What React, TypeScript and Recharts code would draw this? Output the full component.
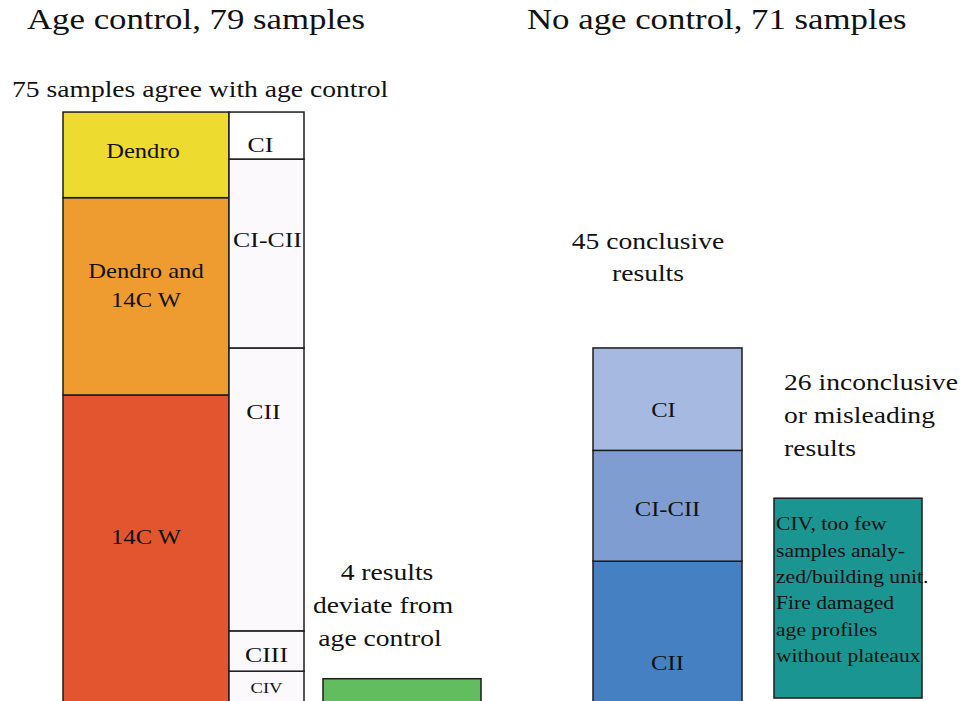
import { BarChart, Bar, XAxis, YAxis } from "recharts";

// Left block: samples with age control (bottom to top of each column)
const agreeCategories = ["14C W", "Dendro and 14C W", "Dendro"];
const agreeValues = [41.1, 23.5, 10.2];
const classCategories = ["CIV", "CIII", "CII", "CI-CII", "CI"];
const classValues = [8.2, 4.8, 33.7, 22.5, 5.6];
const deviateCategories = ["Deviating"];
const deviateValues = [7.3];

// Right block: samples without age control
const conclusiveCategories = ["CII", "CI-CII", "CI"];
const conclusiveValues = [21.3, 13.2, 12.2];
const inconclusiveRange = [5.0, 28.8];

const yDomain = [0, 81];

const FONT = '"Liberation Serif", "Times New Roman", Times, serif';
const STRETCH = 1.2;
const EDGE = "#1c1c1c";

type SegStyle = {
  fill: string;
  lines: string[];
  size: number;
  dy: number;
  lh?: number;
  dx?: number;
  anchor?: "start" | "middle";
};

const leftStyles: Record<string, SegStyle> = {
  Dendro: { fill: "#eedb2f", lines: ["Dendro"], size: 20.5, dy: 46, dx: -3 },
  "Dendro and 14C W": { fill: "#ee9c30", lines: ["Dendro and", "14C W"], size: 20.5, dy: 80, lh: 29 },
  "14C W": { fill: "#e3552f", lines: ["14C W"], size: 20.5, dy: 149 },
  CI: { fill: "#ffffff", lines: ["CI"], size: 21.5, dy: 40, dx: -6 },
  "CI-CII": { fill: "#fbf9fb", lines: ["CI-CII"], size: 21.5, dy: 88, dx: 1 },
  CII: { fill: "#fbf9fb", lines: ["CII"], size: 21.5, dy: 71, dx: -3 },
  CIII: { fill: "#fbf9fb", lines: ["CIII"], size: 21.5, dy: 31 },
  CIV: { fill: "#fbf9fb", lines: ["CIV"], size: 15.5, dy: 22 },
};

const deviateStyle: SegStyle = { fill: "#62bd5e", lines: [], size: 20, dy: 0 };

const rightStyles: Record<string, SegStyle> = {
  CI: { fill: "#a6b9e0", lines: ["CI"], size: 20.5, dy: 69, dx: -4 },
  "CI-CII": { fill: "#7f9dd1", lines: ["CI-CII"], size: 20.5, dy: 66 },
  CII: { fill: "#4580c3", lines: ["CII"], size: 20.5, dy: 109 },
};

const inconclusiveStyle: SegStyle = {
  fill: "#1b9592",
  lines: [
    "CIV, too few",
    "samples analy-",
    "zed/building unit.",
    "Fire damaged",
    "age profiles",
    "without plateaux",
  ],
  size: 18,
  dy: 32,
  lh: 26.4,
  dx: 2,
  anchor: "start",
};

function Stretched({ x, y, size, anchor = "middle", children }: any) {
  return (
    <text
      transform={`translate(${x} ${y}) scale(${STRETCH} 1)`}
      textAnchor={anchor}
      fontFamily={FONT}
      fontSize={size}
      fill="#111"
    >
      {children}
    </text>
  );
}

function segmentShape(style: SegStyle) {
  return (props: any) => {
    const { x, y, width, height } = props;
    const tx = style.anchor === "start" ? x + (style.dx || 0) : x + width / 2 + (style.dx || 0);
    return (
      <g>
        <rect x={x} y={y} width={width} height={height} fill={style.fill} stroke={EDGE} strokeWidth={1.5} />
        {style.lines.map((line, i) => (
          <Stretched key={i} x={tx} y={y + style.dy + i * (style.lh || 0)} size={style.size} anchor={style.anchor}>
            {line}
          </Stretched>
        ))}
      </g>
    );
  };
}

const emptyShape = () => <g />;

const agreeRow: Record<string, any> = { name: "Age control" };
agreeCategories.forEach((c, i) => (agreeRow[c] = agreeValues[i]));
classCategories.forEach((c, i) => (agreeRow[c] = classValues[i]));

const deviateRow: Record<string, any> = { name: "Deviate" };
deviateCategories.forEach((c, i) => (deviateRow[c] = deviateValues[i]));

const noControlRow: Record<string, any> = {
  name: "No age control",
  base: inconclusiveRange[0],
  inconclusive: inconclusiveRange[1] - inconclusiveRange[0],
};
conclusiveCategories.forEach((c, i) => (noControlRow[c] = conclusiveValues[i]));

const CHART_TOP = 60;
const CHART_H = 680;
const margin = { top: 0, right: 0, bottom: 0, left: 0 };

export default function App() {
  return (
    <div
      style={{
        position: "absolute",
        left: 0,
        top: 0,
        width: 964,
        height: 701,
        overflow: "hidden",
        background: "#ffffff",
        fontFamily: FONT,
      }}
    >
      <div style={{ position: "absolute", left: 0, top: CHART_TOP }}>
        <BarChart width={367} height={CHART_H} data={[agreeRow]} margin={margin} barGap={0}>
          <XAxis dataKey="name" hide />
          <YAxis hide domain={yDomain} />
          {agreeCategories.map((c) => (
            <Bar key={c} dataKey={c} stackId="agree" barSize={166} isAnimationActive={false} shape={segmentShape(leftStyles[c])} />
          ))}
          {classCategories.map((c) => (
            <Bar key={c} dataKey={c} stackId="class" barSize={75} isAnimationActive={false} shape={segmentShape(leftStyles[c])} />
          ))}
        </BarChart>
      </div>

      <div style={{ position: "absolute", left: 302, top: CHART_TOP }}>
        <BarChart width={200} height={CHART_H} data={[deviateRow]} margin={margin}>
          <XAxis dataKey="name" hide />
          <YAxis hide domain={yDomain} />
          {deviateCategories.map((c) => (
            <Bar key={c} dataKey={c} barSize={158} isAnimationActive={false} shape={segmentShape(deviateStyle)} />
          ))}
        </BarChart>
      </div>

      <div style={{ position: "absolute", left: 577, top: CHART_TOP }}>
        <BarChart width={360} height={CHART_H} data={[noControlRow]} margin={margin} barGap={32}>
          <XAxis dataKey="name" hide />
          <YAxis hide domain={yDomain} />
          {conclusiveCategories.map((c) => (
            <Bar key={c} dataKey={c} stackId="conclusive" barSize={149} isAnimationActive={false} shape={segmentShape(rightStyles[c])} />
          ))}
          <Bar dataKey="base" stackId="inconclusive" barSize={148} isAnimationActive={false} shape={emptyShape} />
          <Bar dataKey="inconclusive" stackId="inconclusive" barSize={148} isAnimationActive={false} shape={segmentShape(inconclusiveStyle)} />
        </BarChart>
      </div>

      <svg width={964} height={701} style={{ position: "absolute", left: 0, top: 0, pointerEvents: "none" }}>
        <Stretched x={27} y={29} size={29} anchor="start">Age control, 79 samples</Stretched>
        <Stretched x={527} y={29} size={29} anchor="start">No age control, 71 samples</Stretched>
        <Stretched x={12} y={97} size={23} anchor="start">75 samples agree with age control</Stretched>

        <Stretched x={648} y={249} size={23}>45 conclusive</Stretched>
        <Stretched x={648} y={281} size={23}>results</Stretched>

        <Stretched x={387} y={580} size={23}>4 results</Stretched>
        <Stretched x={383} y={613} size={23}>deviate from</Stretched>
        <Stretched x={380} y={646} size={23}>age control</Stretched>

        <Stretched x={784} y={390} size={23} anchor="start">26 inconclusive</Stretched>
        <Stretched x={784} y={423} size={23} anchor="start">or misleading</Stretched>
        <Stretched x={784} y={456} size={23} anchor="start">results</Stretched>
      </svg>
    </div>
  );
}
